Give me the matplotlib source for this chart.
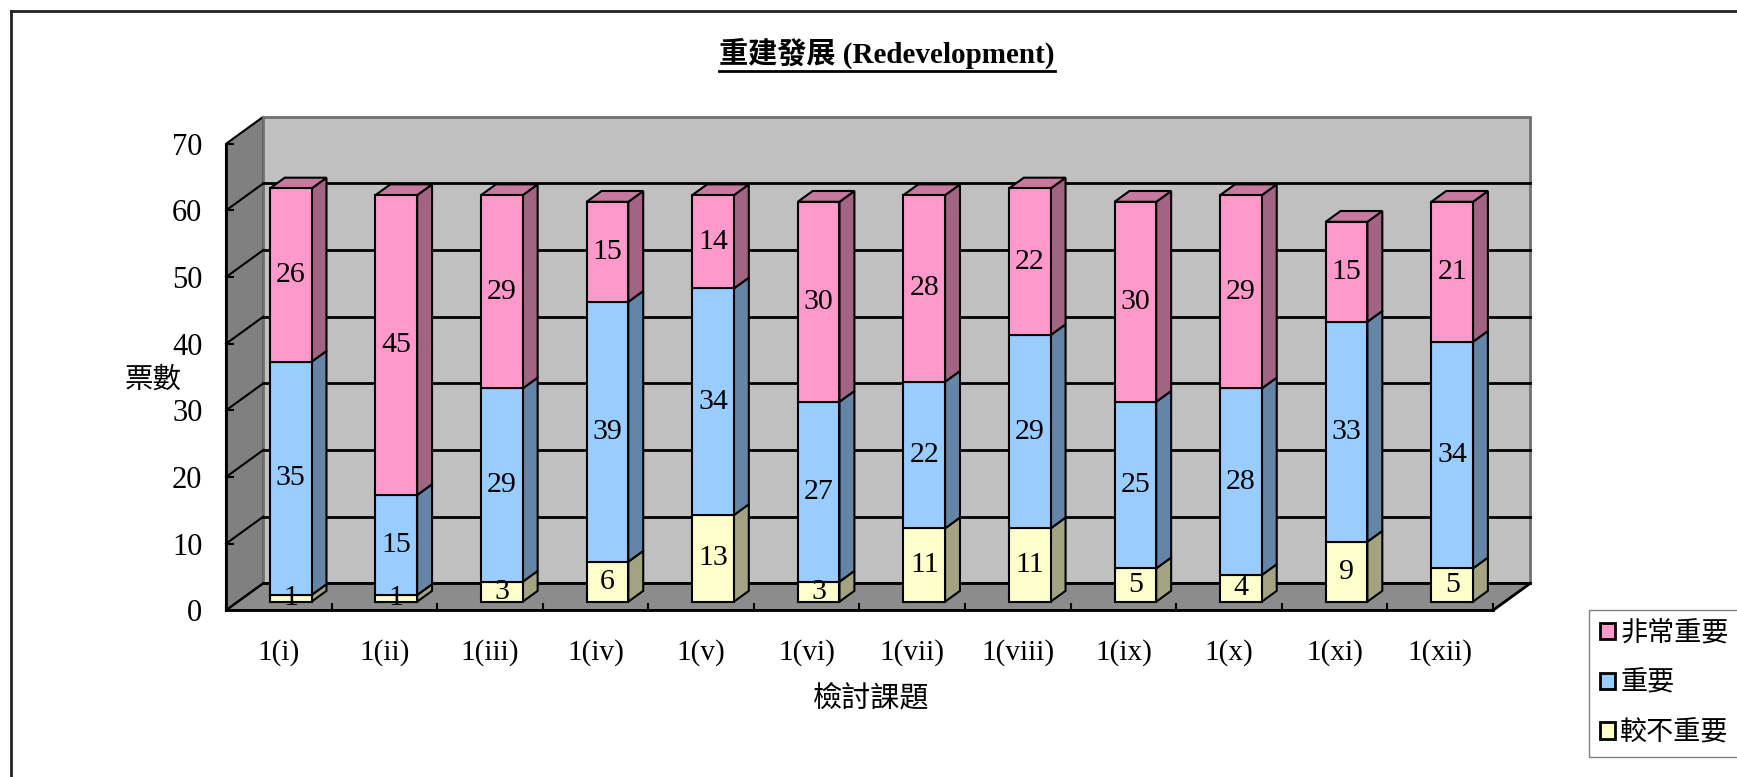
import matplotlib.pyplot as plt
from matplotlib.patches import Polygon, Patch
from matplotlib.lines import Line2D

# chart data
categories = ['1(i)', '1(ii)', '1(iii)', '1(iv)', '1(v)', '1(vi)',
              '1(vii)', '1(viii)', '1(ix)', '1(x)', '1(xi)', '1(xii)']
less_important = [1, 1, 3, 6, 13, 3, 11, 11, 5, 4, 9, 5]
important = [35, 15, 29, 39, 34, 27, 22, 29, 25, 28, 33, 34]
very_important = [26, 45, 29, 15, 14, 30, 28, 22, 30, 29, 15, 21]
series_names = ['較不重要', '重要', '非常重要']
y_ticks = [0, 10, 20, 30, 40, 50, 60, 70]

plt.rcParams['font.family'] = ['Liberation Serif', 'Noto Sans CJK TC']

front_colors = ['#ffffcc', '#99ccff', '#ff99cc']
side_colors = ['#a3a382', '#6485a6', '#a36483']
top_colors = ['#c7c7a0', '#7aa0c7', '#c77aa0']

# fake 3D: depth offset of the floor in data units, bar depth range
DX, DY = 0.353, 4.05
F0, F1 = 0.32, 0.72
W = 0.395
n = len(categories)
ymax = y_ticks[-1]

fig = plt.figure(figsize=(17.37, 7.77), dpi=100)
ax = fig.add_axes([226 / 1737, 1 - 610.3 / 777, 1267 / 1737, 466.5 / 777])
ax.set_xlim(0, n)
ax.set_ylim(0, ymax)
ax.patch.set_visible(False)


def poly(pts, fc, ec='black', lw=1.5, z=1):
    ax.add_patch(Polygon(pts, closed=True, facecolor=fc, edgecolor=ec,
                         linewidth=lw, zorder=z, clip_on=False))


# walls and floor
poly([(0, 0), (DX, DY), (DX, ymax + DY), (0, ymax)], '#808080')
poly([(DX, DY), (n + DX, DY), (n + DX, ymax + DY), (DX, ymax + DY)],
     '#c0c0c0', ec='#707070', lw=2)
poly([(0, 0), (n, 0), (n + DX, DY), (DX, DY)], '#8c8c8c')
ax.plot([n, n + DX], [0, DY], color='black', lw=2, zorder=2, clip_on=False)

for v in y_ticks[:-1]:
    ax.plot([DX, n + DX], [v + DY, v + DY], color='black', lw=2,
            zorder=2, clip_on=False)
    ax.plot([0, DX], [v, v + DY], color='black', lw=1.5,
            zorder=2, clip_on=False)

# stacked bars
stack = [less_important, important, very_important]
centers = [i + 0.5 + F0 * DX for i in range(n)]
bottoms = [F0 * DY] * n
sx = (F1 - F0) * DX
sy = (F1 - F0) * DY
for k, vals in enumerate(stack):
    for i in range(n):
        x1 = centers[i] + W / 2
        y0 = bottoms[i]
        y1 = y0 + vals[i]
        poly([(x1, y0), (x1 + sx, y0 + sy), (x1 + sx, y1 + sy), (x1, y1)],
             side_colors[k], z=3)
        if k == len(stack) - 1:
            x0 = centers[i] - W / 2
            poly([(x0, y1), (x0 + sx, y1 + sy), (x1 + sx, y1 + sy), (x1, y1)],
                 top_colors[k], z=3)
    bars = ax.bar(centers, vals, width=W, bottom=bottoms, color=front_colors[k],
                  edgecolor='black', linewidth=1.5, zorder=4)
    ax.bar_label(bars, label_type='center', fontsize=21.5, zorder=6)
    bottoms = [b + v for b, v in zip(bottoms, vals)]

# axes
for s in ['top', 'right']:
    ax.spines[s].set_visible(False)
for s in ['left', 'bottom']:
    ax.spines[s].set_linewidth(2)
    ax.spines[s].set_zorder(5)

ax.set_yticks(y_ticks)
ax.tick_params(axis='y', direction='in', length=6, width=1.5, pad=17,
               labelsize=22)
ax.set_xticks(range(n + 1))
ax.set_xticklabels([])
ax.set_xticks([i + 0.5 for i in range(n)], minor=True)
ax.set_xticklabels(categories, minor=True)
ax.tick_params(axis='x', which='major', direction='in', length=5, width=1.5)
ax.tick_params(axis='x', which='minor', length=0, pad=21, labelsize=21)

ax.set_ylabel('票數', rotation=0, fontsize=20.5, ha='center', va='center')
ax.yaxis.set_label_coords(-0.0576, 0.492)
ax.set_xlabel('檢討課題', fontsize=21, va='center')
ax.xaxis.set_label_coords(0.509, -0.19)

# legend
handles = [Patch(facecolor=front_colors[k], edgecolor='black', linewidth=2)
           for k in [2, 1, 0]]
fig.legend(handles, [series_names[k] for k in [2, 1, 0]], loc='upper left',
           bbox_to_anchor=(1589 / 1737, 1 - 610 / 777), frameon=True,
           fancybox=False, edgecolor='#808080', framealpha=1,
           borderaxespad=0, borderpad=0.4, handlelength=0.55,
           handleheight=0.55, handletextpad=0.2, labelspacing=0.9,
           fontsize=19.5)

# title with underline
title = fig.text(887 / 1737, 1 - 53 / 777, '重建發展 (Redevelopment)',
                 fontsize=21, fontweight='bold', ha='center', va='center')

# outer border (top and left only visible)
fig.add_artist(Line2D([11 / 1737, 1], [1 - 11 / 777, 1 - 11 / 777],
                      transform=fig.transFigure, color='#222222', lw=2))
fig.add_artist(Line2D([11 / 1737, 11 / 1737], [0, 1 - 11 / 777],
                      transform=fig.transFigure, color='#222222', lw=2))

fig.canvas.draw()
bb = title.get_window_extent()
fig.add_artist(Line2D([bb.x0 / 1737, bb.x1 / 1737],
                      [(bb.y0 - 2) / 777, (bb.y0 - 2) / 777],
                      transform=fig.transFigure, color='black', lw=2))

plt.savefig('out.png', dpi=100)
